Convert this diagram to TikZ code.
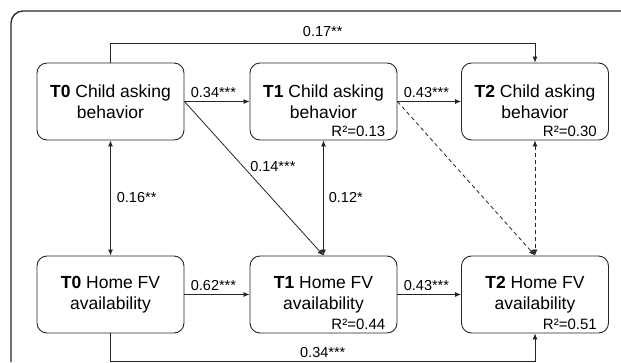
\documentclass[tikz,border=0pt]{standalone}
\usepackage{fontspec}
\setmainfont{Liberation Sans}
\usetikzlibrary{arrows.meta}

\begin{document}
\begin{tikzpicture}[x=1pt, y=-1pt,
  varbox/.style={draw=black!85, line width=0.9pt, rounded corners=10pt, minimum width=147pt, minimum height=77pt, align=center, inner sep=0pt, font=\fontsize{17.5}{21}\selectfont},
  rsq/.style={anchor=base east, inner sep=0pt, font=\fontsize{15}{18}\selectfont},
  coef/.style={inner sep=3pt, font=\fontsize{14.5}{17}\selectfont},
  effect/.style={draw=black!85, line width=0.8pt, -{Latex[length=6pt,width=5pt]}},
  covar/.style={draw=black!85, line width=0.8pt, {Latex[length=6pt,width=5pt]}-{Latex[length=6pt,width=5pt]}},
  ns/.style={dash pattern=on 4pt off 3pt}]
\useasboundingbox (0,0) rectangle (621,362);

% outer frame
\draw[black!85, line width=1.3pt, rounded corners=12pt] (11,362) -- (11,11) -- (621,11);

% variables
\node[varbox] (t0c) at (110.5,101.5) {\textbf{T0} Child asking\\behavior};
\node[varbox] (t1c) at (323.5,101.5) {\textbf{T1} Child asking\\behavior};
\node[varbox] (t2c) at (535,101.5) {\textbf{T2} Child asking\\behavior};
\node[varbox] (t0h) at (110.5,294.5) {\textbf{T0} Home FV\\availability};
\node[varbox] (t1h) at (323.5,294.5) {\textbf{T1} Home FV\\availability};
\node[varbox] (t2h) at (535,294.5) {\textbf{T2} Home FV\\availability};

% explained variance
\node[rsq] (r1c) at ([xshift=-12pt, yshift=3.5pt]t1c.south east) {R²=0.13};
\node[rsq] (r2c) at ([xshift=-12pt, yshift=3.5pt]t2c.south east) {R²=0.30};
\node[rsq] (r1h) at ([xshift=-12pt, yshift=3.5pt]t1h.south east) {R²=0.44};
\node[rsq] (r2h) at ([xshift=-12pt, yshift=3.5pt]t2h.south east) {R²=0.51};

% paths
\draw[effect] (t0c) -- (t1c) node[coef, above right, pos=0, xshift=3pt] {0.34***};
\draw[effect] (t1c) -- (t2c) node[coef, above right, pos=0, xshift=3pt] {0.43***};
\draw[effect] (t0h) -- (t1h) node[coef, above right, pos=0, xshift=3pt] {0.62***};
\draw[effect] (t1h) -- (t2h) node[coef, above right, pos=0, xshift=3pt] {0.43***};
\draw[effect] (t0c.east) -- (t1h.north) node[coef, right, pos=0.42, xshift=4pt] {0.14***};
\draw[effect, ns] (t1c.east) -- (t2h.north);
\draw[effect] (t0c.north) -- ++(0,-19) -| (t2c.north) node[coef, above, pos=0.25, yshift=4pt] {0.17**};
\draw[effect] (t0h.south) -- ++(0,28) -| (t2h.south) node[coef, above, pos=0.25] {0.34***};

% covariances
\draw[covar] (t0c) -- (t0h) node[coef, right, midway, xshift=3pt] {0.16**};
\draw[covar] (t1c) -- (t1h) node[coef, right, midway, xshift=2pt] {0.12*};
\draw[covar, ns] (t2c) -- (t2h);
\end{tikzpicture}
\end{document}
